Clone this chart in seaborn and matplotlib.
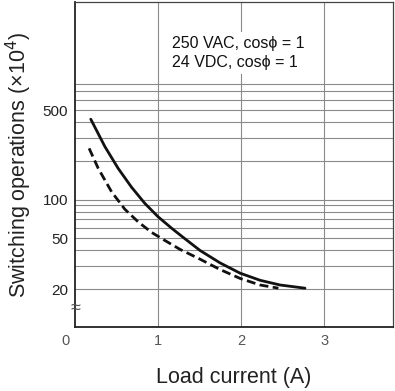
import numpy as np
import pandas as pd
import matplotlib
matplotlib.use('Agg')
import matplotlib.pyplot as plt
import matplotlib.transforms as mtransforms
import seaborn as sns

# values (load current in A, operations x10^4)
ac_current = [0.19, 0.36, 0.52, 0.68, 0.84, 1.00, 1.165, 1.305, 1.506, 1.747, 1.988, 2.229, 2.47, 2.77]
ac_ops = [424, 259, 175, 125, 93.5, 73.4, 59.6, 50.5, 40.0, 32.0, 26.6, 23.4, 21.5, 20.3]
dc_current = [0.17, 0.28, 0.44, 0.60, 0.76, 0.92, 1.08, 1.265, 1.506, 1.747, 1.988, 2.229, 2.45]
dc_ops = [251, 175, 115, 84.0, 67.0, 55.5, 48.0, 40.8, 34.2, 28.4, 24.2, 21.5, 20.3]

x_ticks = [0, 1, 2, 3]
y_ticks = [20, 50, 100, 500]
y_grid = [20, 30, 40, 50, 60, 70, 80, 90, 100, 200, 300, 400, 500, 600, 700, 800]

sns.set_style('white')
plt.rcParams['font.family'] = ['Liberation Sans', 'DejaVu Sans']

df = pd.concat([
    pd.DataFrame({'current': ac_current, 'ops': ac_ops, 'load': 'ac'}),
    pd.DataFrame({'current': dc_current, 'ops': dc_ops, 'load': 'dc'}),
])

fig = plt.figure(figsize=(3.95, 3.91), dpi=100)
ax = fig.add_axes([75 / 395, 64 / 391, 318 / 395, 325 / 391])

ax.set_yscale('log')
ax.set_xlim(0, 3.83)
ax.set_ylim(10.1, 3490)

for v in y_grid:
    ax.axhline(v, color='#8a8a8a', lw=0.8, zorder=1)
for v in x_ticks[1:]:
    ax.axvline(v, color='#8a8a8a', lw=0.8, zorder=1)

sns.lineplot(data=df, x='current', y='ops', style='load', hue='load',
             palette={'ac': '#111111', 'dc': '#111111'},
             dashes={'ac': '', 'dc': (3.2, 1.6)}, linewidth=2.0,
             legend=False, ax=ax, zorder=3)

ax.set_xticks(x_ticks)
ax.set_xticklabels([str(t) for t in x_ticks], color='#555555', fontsize=10.5)
ax.set_yticks(y_ticks)
ax.set_yticklabels([str(t) for t in y_ticks], fontsize=11, color='#222222')
ax.yaxis.set_minor_locator(matplotlib.ticker.NullLocator())
ax.tick_params(length=0, pad=5)
# shift the "0" label a bit left, as in the reference
off = mtransforms.ScaledTranslation(-9 / 100, 0, fig.dpi_scale_trans)
lbl0 = ax.get_xticklabels()[0]
lbl0.set_transform(lbl0.get_transform() + off)

ax.set_xlabel('Load current (A)', fontsize=15.5, labelpad=14, color='#222222')
ax.set_ylabel('Switching operations (×10$^4$)', fontsize=15.5, labelpad=6, color='#222222')

for side in ['left', 'bottom']:
    ax.spines[side].set_linewidth(1.3)
    ax.spines[side].set_color('#222222')
for side in ['top', 'right']:
    ax.spines[side].set_linewidth(0.9)
    ax.spines[side].set_color('#444444')

# break mark on the y axis
trans = mtransforms.blended_transform_factory(ax.transAxes, ax.transData)
ax.text(0, 14.0, '≈', transform=trans, ha='center', va='center', fontsize=13,
        color='#555555', zorder=5, clip_on=False)

ax.text(0.305, 0.895, '250 VAC, cos\u03d5 = 1\n24 VDC, cos\u03d5 = 1',
        transform=ax.transAxes, ha='left', va='top', fontsize=11.5,
        linespacing=1.3, color='#111111', zorder=4,
        bbox=dict(facecolor='white', edgecolor='none', pad=3))

fig.savefig('out.png', dpi=100)
